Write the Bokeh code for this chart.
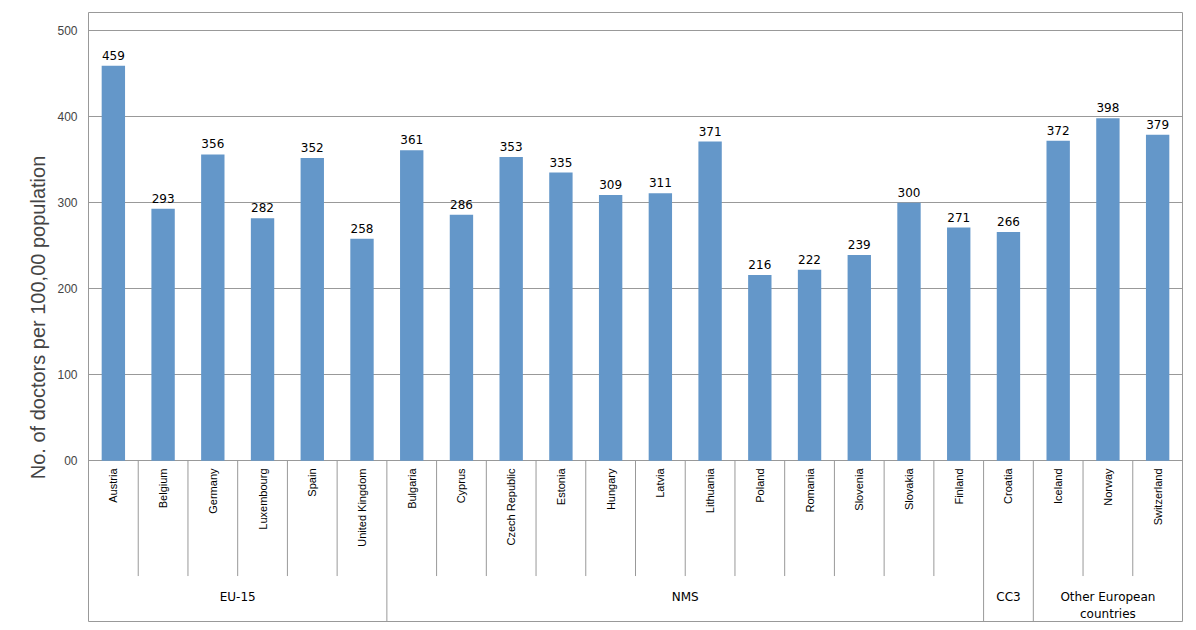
import numpy as np
from bokeh.core.properties import value
from bokeh.embed import file_html
from bokeh.models import ColumnDataSource, FixedTicker, Range1d
from bokeh.plotting import figure
from bokeh.resources import INLINE

countries = ["Austria", "Belgium", "Germany", "Luxembourg", "Spain", "United Kingdom",
             "Bulgaria", "Cyprus", "Czech Republic", "Estonia", "Hungary", "Latvia",
             "Lithuania", "Poland", "Romania", "Slovenia", "Slovakia", "Finland",
             "Croatia", "Iceland", "Norway", "Switzerland"]
doctors = [459, 293, 356, 282, 352, 258, 361, 286, 353, 335, 309, 311, 371, 216,
           222, 239, 300, 271, 266, 372, 398, 379]
groups = ["EU-15", "NMS", "CC3", "Other European\ncountries"]
group_sizes = [6, 12, 1, 3]
y_ticks = [0, 100, 200, 300, 400, 500]

n = len(countries)
x = np.arange(n) + 0.5
src = ColumnDataSource(dict(x=x, y=doctors, lab=[str(v) for v in doctors],
                            name=countries))

p = figure(width=1184, height=622, output_backend="svg", toolbar_location=None,
           x_range=Range1d(0, n), y_range=Range1d(-188, 521),
           min_border_left=88, min_border_right=2, min_border_top=12, min_border_bottom=0)
p.outline_line_color = "#999999"
p.background_fill_color = "white"

p.vbar(x="x", top="y", width=0.47, source=src, fill_color="#6497C9", line_color=None)
p.text(x="x", y="y", text="lab", source=src, y_offset=-6, text_align="center",
       text_baseline="bottom", text_font_size="12px", text_font=value("DejaVu Sans"))
p.text(x="x", y=-9, text="name", source=src, angle=np.pi / 2, text_align="right",
       text_baseline="middle", text_font_size="11px", text_font=value("Liberation Sans"))

# separators
bounds = np.cumsum([0] + group_sizes)
inner = [i for i in range(1, n) if i not in bounds]
p.segment(x0=inner, y0=0, x1=inner, y1=-134, line_color="#999999", line_width=1)
p.segment(x0=list(bounds[1:-1]), y0=0, x1=list(bounds[1:-1]), y1=-188,
          line_color="#999999", line_width=1)
mids = (bounds[:-1] + bounds[1:]) / 2
p.text(x=mids, y=-150, text=groups, text_align="center", text_baseline="top",
       text_font_size="12px", text_font=value("DejaVu Sans"))

p.xaxis.visible = False
p.xgrid.visible = False
p.yaxis.ticker = FixedTicker(ticks=y_ticks)
p.yaxis.major_label_overrides = {0: "00"}
p.yaxis.axis_line_color = None
p.yaxis.major_tick_line_color = None
p.yaxis.minor_tick_line_color = None
p.yaxis.major_label_text_font = "Liberation Sans"
p.yaxis.major_label_text_font_size = "12px"
p.yaxis.axis_label = "No. of doctors per 100,00 population"
p.yaxis.axis_label_text_font = "Liberation Sans"
p.yaxis.axis_label_text_font_size = "20px"
p.yaxis.axis_label_text_font_style = "normal"
p.ygrid.ticker = FixedTicker(ticks=y_ticks)
p.ygrid.grid_line_color = "#999999"

open("out.html", "w").write(file_html(p, INLINE))
